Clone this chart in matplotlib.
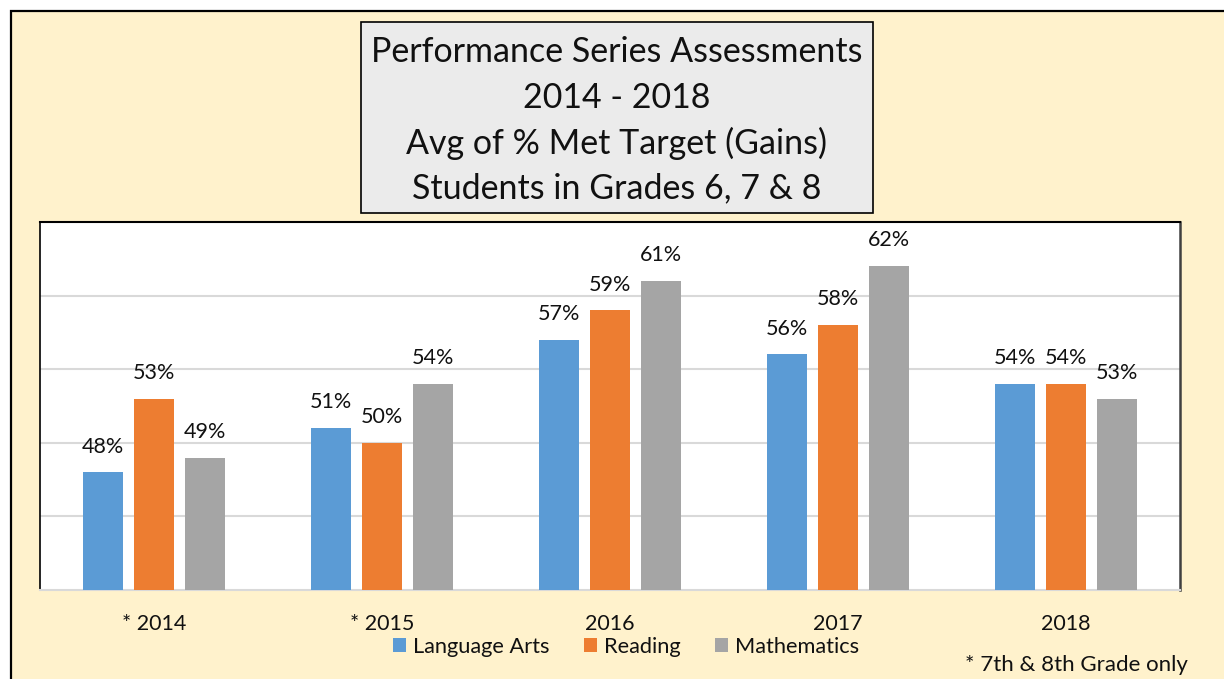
import matplotlib
matplotlib.use("Agg")
import matplotlib.pyplot as plt
from matplotlib.patches import Rectangle
import numpy as np

plt.rcParams['font.family'] = ['Lato', 'DejaVu Sans']

years = ["* 2014", "* 2015", "2016", "2017", "2018"]
series_names = ["Language Arts", "Reading", "Mathematics"]
language_arts = [48, 51, 57, 56, 54]
reading = [53, 50, 59, 58, 54]
mathematics = [49, 54, 61, 62, 53]
colors = ["#5B9BD5", "#ED7D31", "#A5A5A5"]
title_lines = ["Performance Series Assessments", "2014 - 2018",
               "Avg of % Met Target (Gains)", "Students in Grades 6, 7 & 8"]
footnote = "* 7th & 8th Grade only"

W, H = 1224, 679
fig = plt.figure(figsize=(W / 100, H / 100), dpi=100)
fig.patch.set_facecolor("white")

# outer cream panel
fig.patches.append(Rectangle((11 / W, -0.05), 1.1, (H - 11) / H + 0.05,
                             transform=fig.transFigure, facecolor="#FFF2CC",
                             edgecolor="black", linewidth=1.6, zorder=-5))

ax = fig.add_axes([40 / W, (H - 590) / H, 1140 / W, 368 / H])
ax.set_zorder(1)
ax.set_facecolor("white")

x = np.arange(len(years))
width = 40 / 228
step = 51 / 228
for i, (vals, col) in enumerate(zip([language_arts, reading, mathematics], colors)):
    pos = x + (i - 1) * step
    bars = ax.bar(pos, vals, width=width, color=col, label=series_names[i], zorder=3)
    for b, v in zip(bars, vals):
        ax.annotate(f"{v}%", (b.get_x() + b.get_width() / 2, v),
                    xytext=(0, 18.5), textcoords="offset points",
                    ha="center", va="center", fontsize=15.5, color="#111111")

ax.set_ylim(40, 65)
ax.set_xlim(-0.5, 4.5)
ax.set_yticks([45, 50, 55, 60])
ax.set_yticklabels([])
ax.tick_params(axis="y", length=0)
ax.yaxis.grid(True, color="#D9D9D9", linewidth=1.5, zorder=0)
ax.set_axisbelow(True)
ax.set_xticks(x)
ax.set_xticklabels(years, fontsize=15.5, color="#111111")
ax.tick_params(axis="x", length=0, pad=17)
ax.spines["top"].set_color("black")
ax.spines["top"].set_linewidth(1.5)
ax.spines["left"].set_color("black")
ax.spines["left"].set_linewidth(1.2)
ax.spines["right"].set_color("#404040")
ax.spines["right"].set_linewidth(1.8)
ax.spines["bottom"].set_color("#D9D9D9")
ax.spines["bottom"].set_linewidth(1.5)

# title box
tb = Rectangle((361 / W, (H - 213) / H), (873 - 361) / W, (213 - 22) / H,
               transform=fig.transFigure, facecolor="#EBEBEB",
               edgecolor="black", linewidth=1.2, zorder=2)
fig.patches.append(tb)
for yy, line in zip([52, 98, 143, 188], title_lines):
    fig.text(617 / W, (H - yy) / H, line, ha="center", va="center",
             fontsize=24.5, color="#111111", zorder=3)

leg = fig.legend(loc="center", bbox_to_anchor=(626 / W, (H - 647) / H), ncol=3,
                 frameon=False, fontsize=15.7, handlelength=0.6, handleheight=0.6,
                 handletextpad=0.3, columnspacing=1.6)
for t in leg.get_texts():
    t.set_color("#111111")

fig.text(1188 / W, (H - 665) / H, footnote, ha="right", va="center",
         fontsize=16, color="#111111")

fig.savefig("out.png", dpi=100, facecolor=fig.get_facecolor())
